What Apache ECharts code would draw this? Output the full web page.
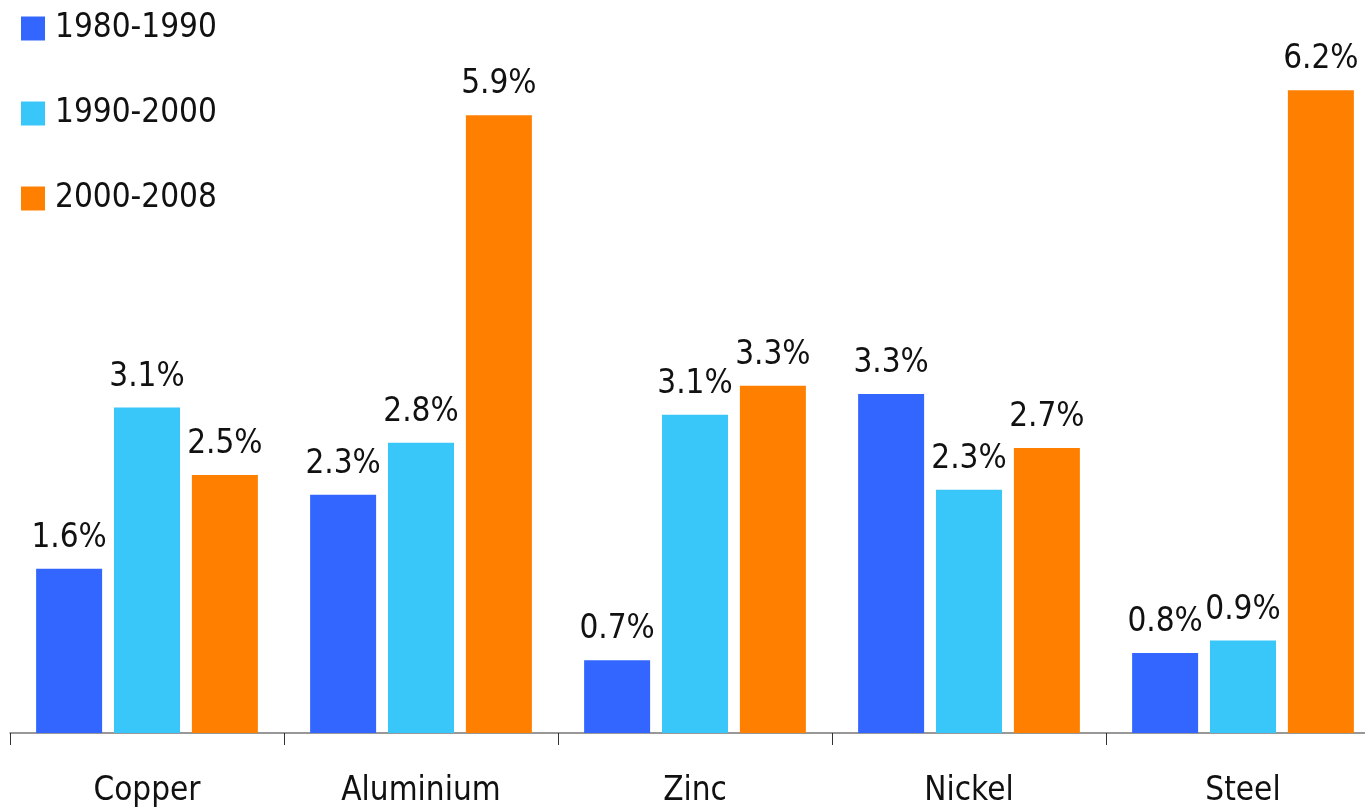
<!DOCTYPE html>
<html>
<head>
<meta charset="utf-8">
<script src="https://cdn.jsdelivr.net/npm/echarts@6/dist/echarts.min.js"></script>
<style>
html,body{margin:0;padding:0;background:#fff;overflow:hidden;}
#chart{width:1380px;height:809px;}
</style>
</head>
<body>
<div id="chart"></div>
<script>
const categories = ['Copper', 'Aluminium', 'Zinc', 'Nickel', 'Steel'];
const seriesNames = ['1980-1990', '1990-2000', '2000-2008'];
const values1980 = [1.58, 2.29, 0.70, 3.26, 0.77];
const values1990 = [3.13, 2.79, 3.06, 2.34, 0.89];
const values2000 = [2.48, 5.94, 3.34, 2.74, 6.18];
const colors = ['#3366FF', '#39C6F9', '#FF8000'];

const FONT = '"Liberation Sans Narrow", "DejaVu Sans Condensed", "Arial Narrow", sans-serif';
const chart = echarts.init(document.getElementById('chart'));
const allValues = [values1980, values1990, values2000];
chart.setOption({
  animation: false,
  color: colors,
  legend: {
    orient: 'vertical',
    left: 21,
    top: 12,
    padding: 0,
    itemWidth: 24,
    itemHeight: 24,
    itemGap: 52,
    icon: 'rect',
    data: seriesNames,
    textStyle: { fontFamily: FONT, fontSize: 33, color: '#111', padding: [0, 0, 0, 5] }
  },
  grid: { left: 10, right: 0, top: 5, bottom: 76, containLabel: false },
  xAxis: {
    type: 'category',
    data: categories,
    axisLine: { lineStyle: { color: '#777', width: 1.5 } },
    axisTick: { show: true, length: 12, lineStyle: { color: '#333', width: 1 } },
    axisLabel: { fontFamily: FONT, fontSize: 33, color: '#111', margin: 42 }
  },
  yAxis: {
    type: 'value', min: 0, max: 7, show: false, splitLine: { show: false }
  },
  series: seriesNames.map((name, i) => ({
    name: name,
    type: 'bar',
    data: allValues[i],
    barWidth: 66,
    barGap: '18%',
    itemStyle: { color: colors[i] },
    label: {
      show: true,
      position: 'top',
      distance: 14,
      fontFamily: FONT,
      fontSize: 33,
      color: '#111',
      formatter: p => p.value.toFixed(1) + '%'
    }
  }))
});
</script>
</body>
</html>
